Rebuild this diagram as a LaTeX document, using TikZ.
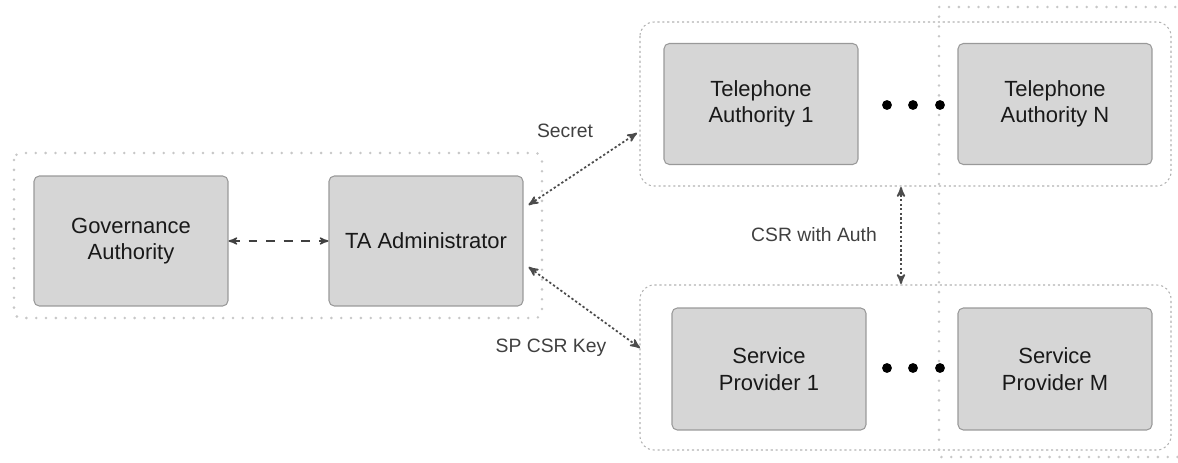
\documentclass[tikz,border=0pt]{standalone}
\usepackage{fontspec}
\setmainfont{Liberation Sans}
\usetikzlibrary{arrows,calc,positioning}

\begin{document}
\begin{tikzpicture}[x=0.02cm, y=-0.02cm, >=stealth', semithick, auto]

    \tikzstyle{entity} = [rectangle, rounded corners=3pt, minimum width=3.88cm, minimum height=2.6cm, text centered, align=center, fill=black!16, draw=black!40, text=black!90, font=\fontsize{12.5}{15}\selectfont]
    \tikzstyle{group} = [rounded corners=8pt, draw=black!30, line width=0.6pt, dash pattern=on 1.2pt off 1.6pt]
    \tikzstyle{coarse} = [rounded corners=4pt, draw=black!22, line width=1.6pt, line cap=round, dash pattern=on 0pt off 5.6pt]
    \tikzstyle{link} = [<->, draw=black!70, line width=1pt, dash pattern=on 1.3pt off 1.3pt]
    \tikzstyle{lbl} = [font=\fontsize{11}{13}\selectfont, text=black!75]

    \useasboundingbox (0,0) rectangle (1178,463);

    % groups
    \draw[coarse] (14,153) rectangle (542,318);
    \draw[group] (640,22) rectangle (1171,186);
    \draw[group] (640,285) rectangle (1171,450);
    \draw[coarse, rounded corners=0pt] (1195,7) -- (939,7) -- (939,457) -- (1195,457);

    \node (gov)    [entity] at (131,241)                 {Governance\\Authority};
    \node (admin)  [entity, right=2cm of gov]            {TA Administrator};

    \node (ta1)    [entity, minimum height=2.42cm] at (761,104)  {Telephone\\Authority 1};
    \node (tan)    [entity, minimum height=2.42cm] at (1055,104) {Telephone\\Authority N};

    \node (sp1)    [entity, minimum height=2.44cm] at (769,369)  {Service\\Provider 1};
    \node (spm)    [entity, minimum height=2.44cm] at (1055,369) {Service\\Provider M};

    % ellipses
    \foreach \px in {887,913,940} {
        \fill (\px,105) circle (2.8pt);
        \fill (\px,368) circle (2.8pt);
    }

    \coordinate (secretend) at (637,133);
    \coordinate (keyend)    at (640,348);
    \coordinate (authtop)   at (901,187);
    \coordinate (authbot)   at (901,284);

    \draw[<->, thick, draw=black!75, dash pattern=on 5pt off 5pt] (gov) -- (admin);
    \draw[link] ($(admin.east)+(5,-36)$) -- (secretend);
    \draw[link] ($(admin.east)+(5,26)$)  -- (keyend);
    \draw[link] (authtop) -- (authbot);

    \node (secret) [lbl] at (565,131) {Secret};
    \node (spkey)  [lbl] at (551,348) {SP CSR Key};
    \node (csr)    [lbl] at (814,235) {CSR with Auth};
\end{tikzpicture}
\end{document}
